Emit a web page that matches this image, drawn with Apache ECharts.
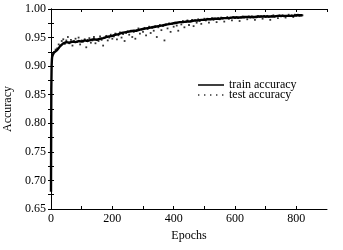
<!DOCTYPE html>
<html><head><meta charset="utf-8">
<script src="https://cdn.jsdelivr.net/npm/echarts@6/dist/echarts.min.js"></script>
<style>html,body{margin:0;padding:0;background:#fff}#c{width:343px;height:250px}</style>
</head><body><div id="c"></div>
<script>
const trainEpochs=[0,1,2,3,4,5,10,20,30,40,50,60,70,80,90,100,110,120,130,140,150,160,170,180,190,200,210,220,230,240,250,260,270,280,290,300,310,320,330,340,350,360,370,380,390,400,410,420,430,440,450,460,470,480,490,500,510,520,530,540,550,560,570,580,590,600,610,620,630,640,650,660,670,680,690,700,710,720,730,740,750,760,770,780,790,800,810,820];
const trainAcc=[0.680,0.860,0.900,0.912,0.918,0.921,0.924,0.928,0.935,0.940,0.942,0.941,0.943,0.942,0.944,0.943,0.945,0.944,0.946,0.947,0.946,0.948,0.949,0.951,0.952,0.953,0.955,0.956,0.958,0.959,0.960,0.961,0.962,0.962,0.964,0.965,0.966,0.967,0.968,0.969,0.970,0.971,0.972,0.973,0.974,0.975,0.976,0.977,0.977,0.978,0.978,0.979,0.980,0.980,0.981,0.981,0.982,0.982,0.983,0.983,0.983,0.984,0.984,0.984,0.985,0.985,0.985,0.985,0.986,0.986,0.986,0.986,0.986,0.987,0.987,0.987,0.987,0.987,0.987,0.988,0.988,0.988,0.988,0.988,0.988,0.989,0.989,0.989];
const testEpochs=[5,10,15,20,25,30,35,40,45,50,55,60,65,70,75,80,85,90,95,100,105,110,115,120,125,130,135,140,145,150,155,160,165,170,175,180,185,190,195,200,205,210,215,220,225,230,235,240,245,250,255,260,265,270,275,280,285,290,295,300,305,310,315,320,325,330,335,340,345,350,355,360,365,370,375,380,385,390,395,400,405,410,415,420,425,430,435,440,445,450,455,460,465,470,475,480,485,490,495,500,505,510,515,520,525,530,535,540,545,550,555,560,565,570,575,580,585,590,595,600,605,610,615,620,625,630,635,640,645,650,655,660,665,670,675,680,685,690,695,700,705,710,715,720,725,730,735,740,745,750,755,760,765,770,775,780,785,790,795,800,805,810,815,820];
const testAcc=[0.918,0.925,0.929,0.931,0.938,0.936,0.944,0.947,0.939,0.945,
0.951,0.940,0.946,0.936,0.944,0.948,0.942,0.950,0.938,0.945,
0.943,0.947,0.933,0.946,0.949,0.941,0.945,0.951,0.940,0.947,
0.944,0.952,0.946,0.936,0.949,0.953,0.945,0.950,0.955,0.948,
0.952,0.957,0.947,0.954,0.959,0.950,0.956,0.944,0.958,0.961,
0.955,0.962,0.951,0.960,0.948,0.963,0.966,0.957,0.964,0.960,
0.967,0.954,0.965,0.969,0.958,0.967,0.962,0.970,0.951,0.968,
0.972,0.963,0.970,0.945,0.973,0.966,0.975,0.960,0.974,0.969,
0.976,0.971,0.962,0.977,0.973,0.979,0.968,0.977,0.980,0.972,
0.978,0.981,0.970,0.980,0.976,0.982,0.979,0.974,0.981,0.983,
0.980,0.983,0.976,0.982,0.984,0.981,0.983,0.977,0.984,0.982,
0.985,0.983,0.978,0.984,0.986,0.983,0.985,0.980,0.986,0.984,
0.986,0.984,0.979,0.986,0.987,0.985,0.986,0.982,0.987,0.985,
0.987,0.985,0.981,0.987,0.988,0.986,0.987,0.983,0.988,0.986,
0.988,0.986,0.981,0.988,0.989,0.987,0.988,0.984,0.989,0.987,
0.989,0.987,0.985,0.988,0.990,0.988,0.989,0.986,0.990,0.988,
0.990,0.988,0.989,0.989];
const seriesNames=['train accuracy','test accuracy'];

const font='"Liberation Serif","Times New Roman",serif';
const chart=echarts.init(document.getElementById('c'),null,{renderer:'canvas'});
const axisLine={show:true,lineStyle:{color:'#000',width:1}};
const tick={show:true,inside:true,length:3,lineStyle:{color:'#000',width:1}};
chart.setOption({
  animation:false,
  backgroundColor:'#fff',
  grid:{left:51,right:16,top:9,bottom:41,show:false,containLabel:false,outerBoundsMode:'none'},
  legend:{
    orient:'vertical',left:193,top:74,itemGap:-2,itemWidth:26,itemHeight:8,
    textStyle:{fontFamily:font,fontSize:12,color:'#000',lineHeight:10},
    data:[
      {name:seriesNames[0],icon:'path://M0,3.3h26v1.4h-26z M0,0h0.01v8h-0.01z M25.99,0h0.01v8h-0.01z'},
      {name:seriesNames[1],icon:'path://M0,3.3h1.4v1.4h-1.4z M6,3.3h1.4v1.4h-1.4z M12,3.3h1.4v1.4h-1.4z M18,3.3h1.4v1.4h-1.4z M24,3.3h1.4v1.4h-1.4z M0,0h0.01v8h-0.01z M25.99,0h0.01v8h-0.01z'}
    ]
  },
  xAxis:[
    {type:'value',min:0,max:900,interval:100,axisLine,axisTick:tick,splitLine:{show:false},
     axisLabel:{margin:4,fontFamily:font,fontSize:12,color:'#000',showMaxLabel:false,
       formatter:v=>(Math.round(v)%200===0?String(Math.round(v)):'')},
     name:'Epochs',nameLocation:'middle',nameGap:20,nameTextStyle:{fontFamily:font,fontSize:12,color:'#000'}},
    {type:'value',position:'top',min:0,max:900,interval:100,axisLine,axisTick:tick,axisLabel:{show:false},splitLine:{show:false}}
  ],
  yAxis:[
    {type:'value',min:0.65,max:1.0,interval:0.025,axisLine,axisTick:tick,splitLine:{show:false},
     axisLabel:{margin:5,fontFamily:font,fontSize:12,color:'#000',
       formatter:v=>(Math.round(v*1000)%50===0?v.toFixed(2):'')},
     name:'Accuracy',nameLocation:'middle',nameGap:31,nameRotate:90,nameTextStyle:{fontFamily:font,fontSize:12,color:'#000'}},
    {type:'value',position:'right',min:0.65,max:1.0,interval:0.025,axisLine,axisTick:tick,axisLabel:{show:false},splitLine:{show:false}}
  ],
  series:[
    {name:seriesNames[0],type:'line',data:trainEpochs.map((e,i)=>[e,trainAcc[i]]),
     showSymbol:false,symbol:'none',lineStyle:{color:'#000',width:2.4},itemStyle:{color:'#000'},z:2},
    {name:seriesNames[1],type:'scatter',data:testEpochs.map((e,i)=>[e,testAcc[i]]),
     symbol:'rect',symbolSize:1.8,itemStyle:{color:'#000'},z:3}
  ]
});
</script></body></html>
